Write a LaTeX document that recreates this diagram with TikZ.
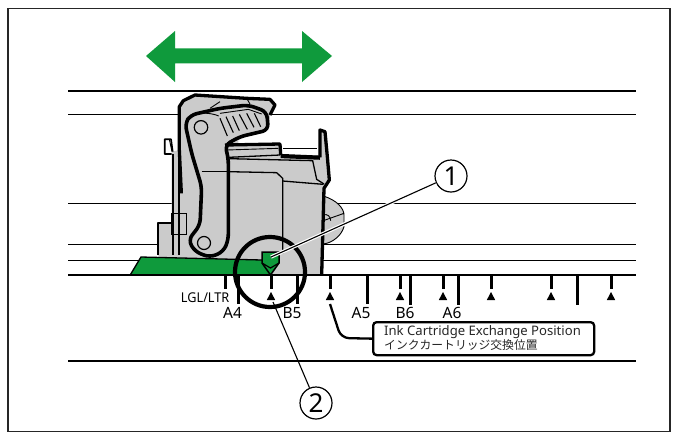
\documentclass[tikz,border=0pt]{standalone}
\usepackage{fontspec}
\setmainfont{Noto Sans}
\newfontfamily\cjk{Noto Sans CJK JP}
\definecolor{grn}{HTML}{0F9A3C}
\definecolor{cart}{HTML}{CBCBCB}
\tikzset{
  rail/.style={line width=.8pt},
  heavy/.style={line width=2.7pt},
  tick/.style={line width=3pt},
  lbl/.style={inner sep=0pt,font=\fontsize{15.5}{15.5}\selectfont},
  tri/.style={fill=black,draw=none},
  ol/.style={line width=1.7pt,line join=round},
  ol2/.style={line width=3.3pt,line join=round},
  thinl/.style={line width=.9pt},
  num/.style={circle,draw,line width=1.2pt,fill=white,minimum size=32pt,inner sep=0pt,font=\fontsize{26}{26}\selectfont},
  zoomed/.style={shift={(120,80)},x=.33333pt,y=-.33333pt},
}
\newcommand{\tmark}[2]{\draw[tick] (#1,275) -- (#1,#2);}
\newcommand{\ttri}[1]{\draw[tick] (#1,275) -- (#1,289); \fill[tri] (#1,292) -- (#1+4.2,300) -- (#1-4.2,300) -- cycle;}
\begin{document}
\begin{tikzpicture}[x=1pt,y=-1pt]
\useasboundingbox (0,0) rectangle (676,437);
\fill[white] (0,0) rectangle (676,437);
\draw[line width=1.5pt,black!85] (8,8.5) rectangle (670,431.5);
% double arrow
\fill[grn] (146,56) -- (175,31) -- (175,48.3) -- (302,48.3) -- (302,31) -- (332,56) -- (302,82) -- (302,63.3) -- (175,63.3) -- (175,82) -- cycle;
% rails
\draw[heavy] (68,91) -- (636,91);
\draw[rail] (68,114.5) -- (636,114.5);
\draw[rail] (68,203) -- (636,203);
\draw[rail] (68,244) -- (636,244);
\draw[rail] (68,260) -- (636,260);
\draw[heavy] (68,361) -- (636,361);
\begin{scope}[zoomed]
% rear ring
\fill[cart] (610,348) .. controls (650,360) and (672,385) .. (672,405) -- (672,440) .. controls (665,465) and (640,488) .. (610,492) -- cycle;
\draw[thinl] (610,348) .. controls (650,360) and (672,385) .. (672,405) -- (672,440) .. controls (665,465) and (640,488) .. (610,492);
\draw[thinl] (610,405) .. controls (622,400) and (632,410) .. (632,422);
\draw[thinl] (610,422) -- (672,400);
% body
\fill[cart] (180,80) -- (190,62) -- (225,45) -- (380,55) -- (450,58) -- (465,75) -- (450,105) -- (445,150) -- (355,170) -- (355,190) -- (480,190) -- (485,225) -- (595,225) -- (600,150) -- (615,155) -- (622,230) -- (628,300) -- (612,325) -- (605,585) -- (115,585) -- (115,430) -- (155,430) -- (155,215) -- (178,210) -- cycle;
% back clip
\draw[ol] (158,215) -- (153,178) -- (134,178) -- (134,222) -- (155,222);
\draw[thinl] (148,178) -- (156,215);
% back wall
\draw[ol] (178,210) -- (178,525);
\draw[ol] (158,222) -- (158,525);
\draw[ol2] (184,340) -- (178,210) -- (178,80) -- (190,62) -- (225,45) -- (380,55) -- (450,58) -- (465,75) -- (450,105);
\draw[ol] (115,525) -- (115,430) -- (158,430);
\draw[thinl] (155,400) -- (200,400) -- (200,463) -- (155,463) -- cycle;
% lever
\draw[line width=3.6pt,line join=round,fill=cart,rounded corners=6pt] (195,130) -- (212,105) -- (300,85) -- (385,75) -- (440,95) -- (445,150) -- (360,170) -- (315,195) -- (325,235) -- (325,480) -- (310,515) -- (270,532) -- (225,515) -- (205,480) -- (240,435) -- (245,320) -- (215,220) -- cycle;
\draw[line width=1.2pt] (245,275) -- (322,275);
\draw[thinl] (212,105) .. controls (240,95) and (280,100) .. (296,108);
\draw[thinl] (300,65) -- (270,85);
\draw[thinl] (380,55) -- (390,72);
\draw[thinl] (300,100) -- (385,88) -- (425,102);
\node[circle,draw,line width=1.2pt,minimum size=13.5pt,inner sep=0pt] (p1) at (243,142) {};
\node[circle,draw,line width=1.2pt,minimum size=13pt,inner sep=0pt] (p2) at (252,489) {};
\foreach \a/\b/\c/\d in {300/115/322/168,318/110/340/158,338/108/358/152,358/103/382/148,380/100/402/142,403/100/422/140} \draw[line width=1.1pt] (\a,\b) -- (\c,\d);
% top shelf
\draw[ol2] (315,195) -- (480,192) -- (482,225);
\draw[line width=4.2pt] (482,228) -- (600,233);
\draw[thinl] (320,210) -- (475,205);
\draw[line width=1.3pt] (325,232) -- (480,225);
\draw[thinl] (490,205) -- (590,205);
\draw[ol2] (600,232) -- (600,150) -- (615,155) -- (622,230) -- (628,300) -- (612,325) -- (605,585);
\draw[line width=1.3pt] (328,236) -- (578,242) -- (590,298) -- (612,312);
\draw[line width=1.3pt] (325,275) -- (470,278) -- (488,295) -- (488,520);
\draw[line width=1.3pt] (488,303) -- (610,313);
\end{scope}
% green slider
\fill[grn] (130.5,274.5) -- (141,257) -- (264,260) -- (271,274.5) -- cycle;
\draw[line width=1.3pt] (130.5,274.5) -- (141,257) -- (262,260);
% pointer
\fill[grn] (262,252) -- (279,252) -- (279,263) -- (270.5,275) -- (262,263) -- cycle;
\draw[line width=1.5pt] (262,263) -- (262,252) -- (279,252) -- (279,263) -- (270.5,275) -- cycle;
\draw[line width=1.2pt] (262,263) -- (270.5,268) -- (279,263);
\node[inner sep=0pt] (ptr) at (271,257) {};
% bottom rail and marks
\draw[heavy] (68,275) -- (636,275);
\tmark{225}{289}
\tmark{238}{304}
\tmark{297}{304}
\tmark{367}{304}
\tmark{410}{305}
\tmark{458}{305}
\tmark{577}{305}
\ttri{271}
\ttri{330}
\ttri{400}
\ttri{443}
\ttri{491}
\ttri{551}
\ttri{611}
% circle
\draw[line width=4.2pt] (270,272) circle (35);
% labels
\node[lbl,font=\fontsize{13.5}{13.5}\selectfont,anchor=east,xscale=.94] (l0) at (229.5,298) {LGL/LTR};
\node[lbl,anchor=center] (l1) at (232.5,313) {A4};
\node[lbl,anchor=center] (l2) at (292,313) {B5};
\node[lbl,anchor=center] (l3) at (361,313) {A5};
\node[lbl,anchor=center] (l4) at (405,313) {B6};
\node[lbl,anchor=center] (l5) at (452,313) {A6};
% callout
\node[draw,line width=2.3pt,rounded corners=3.5pt,fill=white,anchor=north west,inner sep=0pt,minimum width=221pt,minimum height=33pt] (box) at (372,321) {};
\node[inner sep=0pt,anchor=base west,font=\fontsize{13.1}{13}\selectfont,color=black!85] (t1) at (384,335.5) {Ink Cartridge Exchange Position};
\node[inner sep=0pt,anchor=west,font=\fontsize{11.8}{12}\cjk,color=black!85] (t2) at (384,345) {インクカートリッジ交換位置};
\coordinate (tp) at (330,304);
\draw[line width=2.3pt,rounded corners=8pt] (tp) -- (341,338) -- (box.west);
% numbered
\node[num] (n1) at (451,176) {1};
\node[num] (n2) at (316,403) {2};
\draw[white,line width=3.4pt] (ptr.center) -- (n1);
\draw[line width=1.1pt] (ptr.center) -- (n1);
\coordinate (t2p) at (273,302);
\draw[line width=1.1pt] (t2p) -- (n2);
\end{tikzpicture}
\end{document}
